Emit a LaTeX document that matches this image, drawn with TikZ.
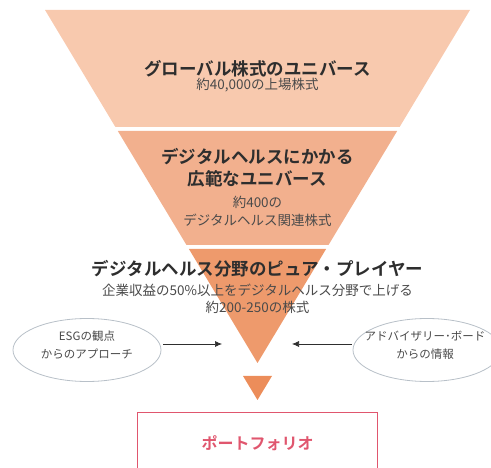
\documentclass[tikz,border=0pt]{standalone}
\usepackage{fontspec}
\setmainfont{Noto Sans CJK JP}
\newfontfamily\jpb{Noto Sans CJK JP Bold}
\usetikzlibrary{shapes.geometric,arrows.meta}
\definecolor{secA}{HTML}{F8C9AE}
\definecolor{secB}{HTML}{F2B08E}
\definecolor{secC}{HTML}{EE9A6C}
\definecolor{tipC}{HTML}{EC8D5A}
\definecolor{txtdark}{HTML}{2E2E2E}
\definecolor{txtsub}{HTML}{4A4A4A}
\definecolor{pinkred}{HTML}{E0566E}
\definecolor{ellline}{HTML}{B8C0C8}
\tikzset{
  titletext/.style={font=\jpb\fontsize{17.5}{21}\selectfont, text=txtdark, align=center, inner sep=0pt, text height=0.78em, text depth=0.05em},
  subtext/.style={font=\fontsize{13.5}{16}\selectfont, text=txtsub, align=center, inner sep=0pt, text height=0.75em, text depth=0.05em},
  elltext/.style={font=\fontsize{11.5}{18}\selectfont, text=txtsub, align=center, inner sep=0pt},
  bubble/.style={draw=ellline, line width=0.8pt, ellipse, minimum width=148pt, minimum height=63pt, fill=white},
  feed/.style={draw=txtdark, line width=0.7pt, -{Latex[length=7pt,width=6pt]}},
}
\begin{document}
\begin{tikzpicture}[x=1pt,y=-1pt]
\useasboundingbox (0,0) rectangle (491,468);
\clip (0,0) rectangle (491,468);
% funnel sections (half width hw(y)=212.5*(363-y)/353, centre 257.5)
\fill[secA] (45,10) -- (470,10) -- (399.6,127) -- (115.4,127) -- cycle;
\fill[secB] (117.8,131) -- (397.2,131) -- (328.5,245) -- (186.5,245) -- cycle;
\fill[secC] (188.9,249) -- (326.1,249) -- (257.5,363) -- cycle;
% small triangle
\fill[tipC] (243,376) -- (272,376) -- (257.5,400) -- cycle;
% texts of funnel
\node[titletext] (t1) at (257.5,71.5) {グローバル株式のユニバース};
\node[subtext] (s1) at (257.5,86) {約40,000の上場株式};
\node[titletext] (t2) at (257.5,160) {デジタルヘルスにかかる};
\node[titletext] (t2b) at (257.5,182) {広範なユニバース};
\node[subtext] (s2) at (257.5,204) {約400の};
\node[subtext] (s2b) at (257.5,222) {デジタルヘルス関連株式};
\node[titletext] (t3) at (257.5,272) {デジタルヘルス分野のピュア・プレイヤー};
\node[subtext] (s3) at (257.5,292) {企業収益の50\%以上をデジタルヘルス分野で上げる};
\node[subtext] (s3b) at (257.5,309) {約200-250の株式};
% side bubbles
\node[bubble] (esg) at (87,350) {};
\node[elltext] (esgtext) at (87,345) {ESGの観点\\からのアプローチ};
\node[bubble] (adv) at (427,350) {};
\node[elltext] (advtext) at (425,345) {アドバイザリー･ボード\\からの情報};
\coordinate (inL) at (222,344);
\coordinate (inR) at (292,344);
\draw[feed] (esg.east |- inL) ++(2,0) -- (inL);
\draw[feed] (adv.west |- inR) ++(-1,0) -- (inR);
% portfolio box
\node[draw=pinkred, line width=1.4pt, minimum width=240pt, minimum height=90pt, anchor=north, inner sep=0pt] (port) at (257.5,412) {};
\node[font=\jpb\fontsize{16}{19}\selectfont, text=pinkred, inner sep=0pt] (portlabel) at (257.5,443) {ポートフォリオ};
\end{tikzpicture}
\end{document}
